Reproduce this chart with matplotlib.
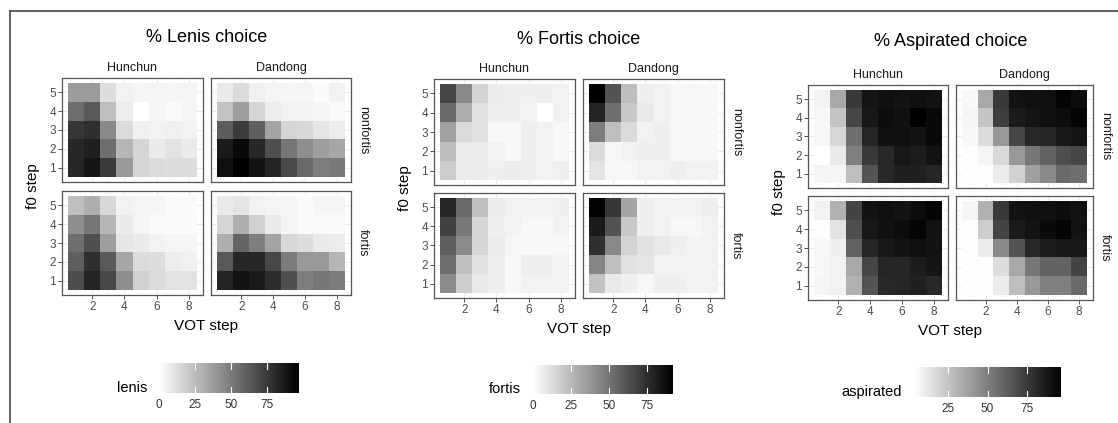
import numpy as np
import matplotlib.pyplot as plt
from matplotlib.colors import LinearSegmentedColormap
from matplotlib.lines import Line2D

plt.rcParams['font.family'] = ['Liberation Sans', 'DejaVu Sans']

# === Data: % choice per VOT step (columns 1-8) and f0 step (rows 1-5) ===
vot_steps = [1, 2, 3, 4, 5, 6, 7, 8]
f0_steps = [1, 2, 3, 4, 5]
cities = ['Hunchun', 'Dandong']
contexts = ['nonfortis', 'fortis']

lenis_hunchun_nonfortis = [
    [82, 89, 75, 39, 16, 14, 13, 13],
    [82, 85, 55, 28, 16, 8, 11, 8],
    [76, 79, 45, 14, 6, 5, 6, 5],
    [55, 63, 25, 7, 0, 4, 2, 4],
    [38, 38, 13, 5, 4, 4, 4, 4],
]
lenis_dandong_nonfortis = [
    [91, 97, 90, 83, 69, 57, 49, 51],
    [87, 93, 82, 67, 52, 43, 37, 34],
    [62, 74, 61, 35, 16, 15, 10, 7],
    [23, 37, 16, 7, 5, 5, 4, 2],
    [8, 14, 6, 4, 4, 4, 2, 5],
]
lenis_hunchun_fortis = [
    [68, 83, 70, 43, 18, 14, 11, 11],
    [61, 79, 63, 34, 14, 13, 7, 6],
    [55, 67, 37, 10, 8, 5, 4, 4],
    [43, 52, 28, 8, 4, 2, 2, 2],
    [25, 31, 15, 5, 4, 4, 2, 2],
]
lenis_dandong_fortis = [
    [83, 90, 87, 80, 67, 49, 52, 50],
    [63, 82, 82, 70, 50, 39, 39, 28],
    [31, 59, 49, 35, 15, 13, 8, 7],
    [16, 31, 18, 8, 4, 2, 2, 2],
    [8, 10, 5, 4, 4, 2, 4, 4],
]

fortis_hunchun_nonfortis = [
    [18, 7, 7, 6, 7, 6, 5, 6],
    [24, 7, 7, 5, 3, 6, 5, 3],
    [34, 13, 11, 3, 3, 6, 5, 3],
    [54, 30, 11, 6, 6, 5, 0, 5],
    [67, 43, 16, 7, 6, 6, 6, 5],
]
fortis_dandong_nonfortis = [
    [10, 3, 3, 5, 5, 6, 5, 5],
    [13, 3, 5, 6, 6, 3, 3, 3],
    [47, 23, 13, 5, 6, 3, 3, 3],
    [79, 52, 20, 8, 5, 3, 3, 3],
    [92, 62, 24, 6, 5, 3, 3, 3],
]
fortis_hunchun_fortis = [
    [42, 18, 8, 6, 3, 5, 5, 5],
    [52, 23, 11, 6, 3, 6, 6, 5],
    [58, 42, 15, 7, 3, 3, 3, 3],
    [68, 48, 15, 6, 5, 3, 3, 5],
    [78, 54, 23, 7, 5, 5, 5, 6],
]
fortis_dandong_fortis = [
    [22, 8, 6, 3, 6, 6, 5, 5],
    [44, 23, 11, 10, 5, 5, 5, 5],
    [75, 43, 16, 11, 8, 6, 5, 5],
    [82, 62, 20, 6, 5, 3, 3, 5],
    [91, 72, 33, 6, 5, 5, 5, 6],
]

aspirated_hunchun_nonfortis = [
    [7, 7, 27, 66, 82, 85, 85, 83],
    [3, 11, 50, 76, 82, 88, 86, 90],
    [6, 18, 56, 83, 91, 91, 90, 93],
    [6, 25, 71, 88, 92, 91, 97, 93],
    [8, 35, 76, 89, 91, 90, 91, 90],
]
aspirated_dandong_nonfortis = [
    [4, 4, 10, 20, 38, 46, 58, 56],
    [4, 7, 17, 41, 53, 61, 68, 71],
    [6, 16, 41, 71, 82, 83, 88, 89],
    [7, 25, 74, 87, 89, 91, 92, 95],
    [6, 35, 76, 90, 91, 91, 95, 92],
]
aspirated_hunchun_fortis = [
    [7, 8, 32, 66, 82, 83, 85, 82],
    [6, 8, 35, 71, 83, 83, 86, 89],
    [6, 9, 61, 83, 88, 90, 91, 90],
    [4, 14, 68, 88, 91, 92, 95, 90],
    [8, 32, 72, 90, 91, 90, 92, 95],
]
aspirated_dandong_fortis = [
    [4, 4, 10, 27, 41, 50, 50, 58],
    [4, 4, 16, 35, 53, 61, 61, 72],
    [4, 10, 46, 66, 82, 86, 88, 88],
    [4, 22, 72, 87, 90, 93, 95, 90],
    [7, 32, 76, 90, 91, 91, 92, 90],
]

legend_breaks = [0, 25, 50, 75]

# === Layout (pixel boxes on a 1118x423 canvas) ===
W, H = 1118, 423
fig = plt.figure(figsize=(W / 100, H / 100), dpi=100)
cmap = LinearSegmentedColormap.from_list('white_black', ['#FFFFFF', '#000000'])


def px_axes(left, right, top, bottom):
    return fig.add_axes([left / W, 1 - bottom / H, (right - left) / W, (bottom - top) / H])


def fx(x):
    return x / W


def fy(y):
    return 1 - y / H


panels = [
    dict(title='% Lenis choice', legend='lenis', title_y=38,
         grids={('nonfortis', 'Hunchun'): lenis_hunchun_nonfortis,
                ('nonfortis', 'Dandong'): lenis_dandong_nonfortis,
                ('fortis', 'Hunchun'): lenis_hunchun_fortis,
                ('fortis', 'Dandong'): lenis_dandong_fortis},
         cols=[(62, 203), (211, 351)], rows=[(78, 182), (191, 295)],
         bar=(159, 299, 363, 393)),
    dict(title='% Fortis choice', legend='fortis', title_y=40,
         grids={('nonfortis', 'Hunchun'): fortis_hunchun_nonfortis,
                ('nonfortis', 'Dandong'): fortis_dandong_nonfortis,
                ('fortis', 'Hunchun'): fortis_hunchun_fortis,
                ('fortis', 'Dandong'): fortis_dandong_fortis},
         cols=[(434, 575), (583, 724)], rows=[(79, 185), (193, 298)],
         bar=(533, 673, 365, 394)),
    dict(title='% Aspirated choice', legend='aspirated', title_y=42,
         grids={('nonfortis', 'Hunchun'): aspirated_hunchun_nonfortis,
                ('nonfortis', 'Dandong'): aspirated_dandong_nonfortis,
                ('fortis', 'Hunchun'): aspirated_hunchun_fortis,
                ('fortis', 'Dandong'): aspirated_dandong_fortis},
         cols=[(808, 948), (956, 1093)], rows=[(85, 188), (196, 300)],
         bar=(914, 1061, 367, 397)),
]

x_edges = np.arange(len(vot_steps) + 1) + 0.5
y_edges = np.arange(len(f0_steps) + 1) + 0.5

for p in panels:
    all_vals = np.concatenate([np.ravel(v) for v in p['grids'].values()])
    vmin, vmax = all_vals.min(), all_vals.max()
    (cl0, cr0), (cl1, cr1) = p['cols']
    (rt0, rb0), (rt1, rb1) = p['rows']

    for i, ctx in enumerate(contexts):
        top, bottom = p['rows'][i]
        for j, city in enumerate(cities):
            left, right = p['cols'][j]
            ax = px_axes(left, right, top, bottom)
            ax.pcolormesh(x_edges, y_edges, np.array(p['grids'][(ctx, city)]),
                          cmap=cmap, vmin=vmin, vmax=vmax, zorder=2)
            ax.set_xlim(0.1, 8.9)
            ax.set_ylim(0.25, 5.75)
            ax.set_xticks([2, 4, 6, 8])
            ax.set_xticks([1, 3, 5, 7], minor=True)
            ax.set_yticks(f0_steps)
            ax.set_yticks([1.5, 2.5, 3.5, 4.5], minor=True)
            ax.grid(which='major', color='#EBEBEB', lw=0.7, zorder=0)
            ax.grid(which='minor', color='#F2F2F2', lw=0.4, zorder=0)
            ax.set_axisbelow(True)
            for s in ax.spines.values():
                s.set_color('#555555')
                s.set_linewidth(0.9)
                s.set_zorder(3)
            ax.tick_params(which='major', length=2.75, width=0.6, color='#333333',
                           labelsize=8.5, labelcolor='#4D4D4D', pad=1.5)
            ax.tick_params(which='minor', length=0)
            if i == 0:
                ax.tick_params(axis='x', labelbottom=False, length=0)
            if j == 1:
                ax.tick_params(axis='y', labelleft=False, length=0)
            if i == 0:
                fig.text(fx((left + right) / 2), fy(top - 10), city, ha='center', va='center',
                         fontsize=9, color='#1A1A1A')
            if j == 1:
                fig.text(fx(right + 12), fy((top + bottom) / 2), ctx, ha='center', va='center',
                         rotation=-90, fontsize=9, color='#1A1A1A')

    fig.text(fx((cl0 + cr1) / 2), fy(p['title_y']), p['title'], ha='center', va='center',
             fontsize=13, color='black')
    fig.text(fx(cl0 - 29), fy((rt0 + rb1) / 2), 'f0 step', ha='center', va='center',
             rotation=90, fontsize=11, color='black')
    fig.text(fx((cl0 + cr1) / 2), fy(rb1 + 31), 'VOT step', ha='center', va='center',
             fontsize=11, color='black')

    # colour bar legend
    bl, br, bt, bb = p['bar']
    cax = px_axes(bl, br, bt, bb)
    grad = np.linspace(vmin, vmax, 256)[None, :]
    cax.imshow(grad, extent=[vmin, vmax, 0, 1], aspect='auto', cmap=cmap,
               vmin=vmin, vmax=vmax, interpolation='bilinear')
    cax.set_xlim(vmin, vmax)
    cax.set_ylim(0, 1)
    ticks = [t for t in legend_breaks if vmin <= t <= vmax]
    for t in ticks:
        cax.plot([t, t], [0, 0.2], color='white', lw=0.8)
        cax.plot([t, t], [0.8, 1], color='white', lw=0.8)
    for s in cax.spines.values():
        s.set_visible(False)
    cax.set_yticks([])
    cax.set_xticks(ticks)
    cax.tick_params(axis='x', length=0, labelsize=8.5, labelcolor='#333333', pad=4)
    fig.text(fx(bl - 12), fy(bb - 1), p['legend'], ha='right', va='baseline',
             fontsize=10.5, color='black')

# outer frame
fig.add_artist(Line2D([fx(10), fx(10)], [0, fy(11.5)], color='#555555', lw=1.3))
fig.add_artist(Line2D([fx(10), 1], [fy(11.5), fy(11.5)], color='#555555', lw=1.3))

fig.savefig('out.png', dpi=100)
